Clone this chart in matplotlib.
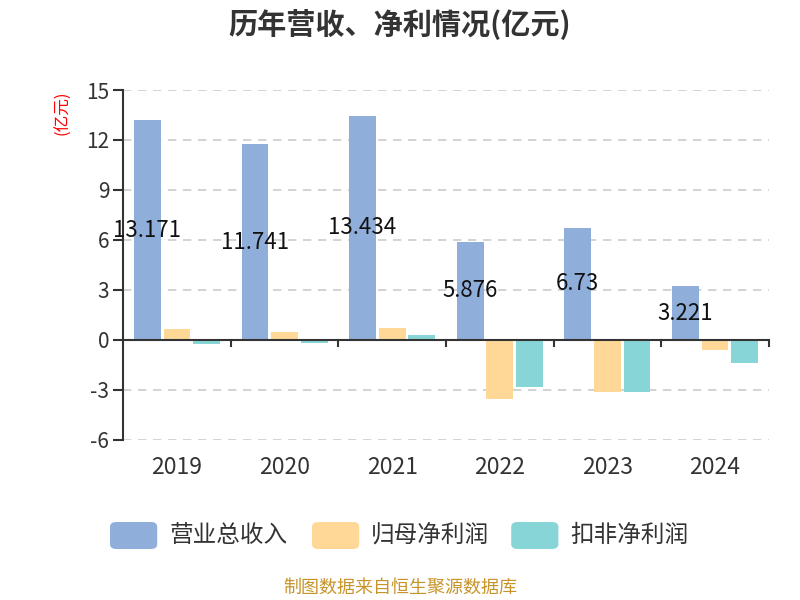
import matplotlib.pyplot as plt
import numpy as np
from matplotlib.patches import FancyBboxPatch

plt.rcParams['font.family'] = ['Noto Sans CJK SC', 'DejaVu Sans']

years = ['2019', '2020', '2021', '2022', '2023', '2024']
revenue = [13.171, 11.741, 13.434, 5.876, 6.73, 3.221]
net_profit = [0.63, 0.46, 0.70, -3.56, -3.14, -0.62]
deducted_profit = [-0.22, -0.18, 0.30, -2.86, -3.16, -1.36]
series_names = ['营业总收入', '归母净利润', '扣非净利润']
colors = ['#8FAEDA', '#FFD797', '#88D5D8']

fig = plt.figure(figsize=(8, 6), dpi=100)
ax = fig.add_axes([0.154, 0.267, 0.807, 0.583])

x = np.arange(len(years))
w = 0.25
off = 0.275
ax.bar(x - off, revenue, w, color=colors[0], zorder=3)
ax.bar(x, net_profit, w, color=colors[1], zorder=3)
ax.bar(x + off, deducted_profit, w, color=colors[2], zorder=3)

# 数值标签放在柱子中间
for xi, v in zip(x, revenue):
    ax.text(xi - off, v / 2, f'{v:g}', ha='center', va='center', fontsize=16, color='#111111', zorder=4)

ax.set_xlim(-0.5, len(years) - 0.5)
ax.set_ylim(-6, 15)
ax.set_yticks(range(-6, 16, 3))
ax.set_yticklabels([str(t) for t in range(-6, 16, 3)], fontsize=15, color='#333333')
ax.yaxis.grid(True, linestyle=(0, (5, 4)), color='#cccccc', linewidth=1.2, zorder=0)

for s in ['top', 'right', 'bottom']:
    ax.spines[s].set_visible(False)
ax.spines['left'].set_color('#333333')
ax.spines['left'].set_linewidth(1.5)
ax.axhline(0, color='#333333', linewidth=1.5, zorder=5)
ax.tick_params(axis='y', length=7, width=1.5, color='#333333', pad=3)

# x 轴刻度在分类边界
ax.set_xticks(x)
ax.set_xticklabels(years, fontsize=16.5, color='#333333')
ax.tick_params(axis='x', length=0, pad=12)
for b in np.arange(0.5, len(years), 1):
    ax.plot([b, b], [0, -0.35], color='#333333', linewidth=1.5, zorder=5, clip_on=False)

ax.set_ylabel('(亿元)', color='red', fontsize=12)
ax.yaxis.set_label_coords(-0.081, 0.935)

fig.text(0.5, 0.96, '历年营收、净利情况(亿元)', ha='center', va='center', fontsize=21, fontweight='bold', color='#333333')

# 图例
leg_x = [0.1375, 0.39, 0.639]
for lx, name, c in zip(leg_x, series_names, colors):
    fig.patches.append(FancyBboxPatch((lx, 0.085), 0.059, 0.045, boxstyle='round,pad=0,rounding_size=0.008',
                                      transform=fig.transFigure, facecolor=c, edgecolor='none'))
    fig.text(lx + 0.074, 0.108, name, ha='left', va='center', fontsize=17, color='#333333')

fig.text(0.5, 0.02, '制图数据来自恒生聚源数据库', ha='center', va='center', fontsize=13, color='#C8942A')

plt.savefig('out.png', dpi=100)
